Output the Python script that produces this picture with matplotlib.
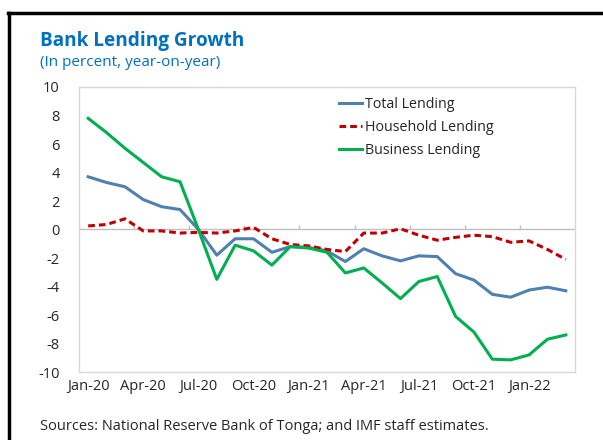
import numpy as np
import matplotlib
matplotlib.use("Agg")
import matplotlib.pyplot as plt
from matplotlib.lines import Line2D

plt.rcParams['font.family'] = ['Open Sans', 'DejaVu Sans']
plt.rcParams['axes.unicode_minus'] = False

# monthly, Jan-20 .. Mar-22
months = ['Jan-20', 'Feb-20', 'Mar-20', 'Apr-20', 'May-20', 'Jun-20', 'Jul-20', 'Aug-20', 'Sep-20',
          'Oct-20', 'Nov-20', 'Dec-20', 'Jan-21', 'Feb-21', 'Mar-21', 'Apr-21', 'May-21', 'Jun-21',
          'Jul-21', 'Aug-21', 'Sep-21', 'Oct-21', 'Nov-21', 'Dec-21', 'Jan-22', 'Feb-22', 'Mar-22']

total_lending = [3.7, 3.3, 3.0, 2.1, 1.6, 1.4, 0.0, -1.8, -0.65, -0.65, -1.6, -1.2, -1.25, -1.5,
                 -2.25, -1.35, -1.85, -2.2, -1.85, -1.9, -3.1, -3.55, -4.55, -4.75, -4.25, -4.05, -4.3]
household_lending = [0.25, 0.35, 0.75, -0.1, -0.1, -0.25, -0.2, -0.25, -0.1, 0.15, -0.65, -1.05, -1.15,
                     -1.4, -1.55, -0.25, -0.25, 0.05, -0.4, -0.75, -0.55, -0.4, -0.5, -0.9, -0.8, -1.4, -2.1]
business_lending = [7.8, 6.8, 5.7, 4.7, 3.7, 3.35, 0.0, -3.5, -1.1, -1.5, -2.5, -1.2, -1.3, -1.6,
                    -3.05, -2.7, -3.75, -4.85, -3.65, -3.3, -6.1, -7.2, -9.1, -9.15, -8.8, -7.7, -7.4]

x = np.arange(len(months))

fig = plt.figure(figsize=(6.03, 4.40), dpi=100)
ax = fig.add_axes([79 / 603, 1 - 372 / 440, (575 - 79) / 603, (372 - 87) / 440])

ax.plot(x, total_lending, color='#4f81b0', lw=2.2, label='Total Lending')
ax.plot(x, household_lending, color='#c00000', lw=2.2, ls=(0, (2.2, 1.3)), label='Household Lending')
ax.plot(x, business_lending, color='#00b050', lw=2.2, label='Business Lending')

ax.set_xlim(-0.5, len(months) - 0.5)
ax.set_ylim(-10, 10)
ax.set_yticks(np.arange(-10, 11, 2))
ax.set_xticks(x[::3])
ax.set_xticklabels(months[::3])
ax.tick_params(axis='both', length=0, labelsize=10.5, colors='#262626')
ax.tick_params(axis='x', pad=5)
ax.tick_params(axis='y', pad=14)
for t in ax.get_yticklabels():
    t.set_horizontalalignment('right')
for s in ax.spines.values():
    s.set_color('#d9d9d9')
    s.set_linewidth(1.0)

# category axis at zero with tick marks between quarters
ax.axhline(0, color='#bfbfbf', lw=1.0, zorder=1)
ax.vlines(np.arange(-0.5, len(months), 3), 0, 0.3, color='#bfbfbf', lw=1.0, zorder=1)

leg = ax.legend(loc='upper left', bbox_to_anchor=(0.505, 1.0), frameon=False, fontsize=10.3,
                handlelength=1.6, handletextpad=0.15, labelspacing=0.55, borderaxespad=0.3)
for t in leg.get_texts():
    t.set_color('#262626')

fig.text(40 / 603, 1 - 46 / 440, 'Bank Lending Growth', color='#0070c0', fontsize=13.7,
         fontweight='bold', va='baseline')
fig.text(40 / 603, 1 - 66 / 440, '(In percent, year-on-year)', color='#0070c0', fontsize=11,
         va='baseline')
fig.text(40 / 603, 1 - 430 / 440, 'Sources: National Reserve Bank of Tonga; and IMF staff estimates.',
         color='#262626', fontsize=10.5, va='baseline')

# outer frame (left and top edges)
fig.add_artist(Line2D([9 / 603, 9 / 603], [0, 1 - 13 / 440], color='black', lw=2.5))
fig.add_artist(Line2D([8 / 603, 1], [1 - 13 / 440, 1 - 13 / 440], color='black', lw=2.5))

fig.savefig('out.png', dpi=100)
